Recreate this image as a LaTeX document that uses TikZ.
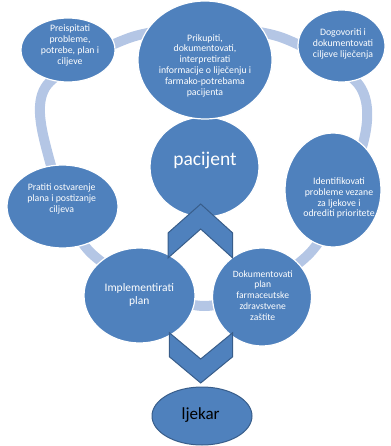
\documentclass[tikz,border=0pt]{standalone}
\usepackage{fontspec}
\setmainfont{Carlito}
\usetikzlibrary{shapes.geometric}
\definecolor{accblue}{HTML}{4F81BD}
\definecolor{ringblue}{HTML}{B4C6E5}
\definecolor{edgeblue}{HTML}{385D8A}

\begin{document}
\begin{tikzpicture}[x=1pt,y=-1pt,
 bub/.style={ellipse,fill=accblue,draw=white,line width=1.2pt,inner sep=0pt},
 txt/.style={text=white,align=center,inner sep=0pt,font=\fontsize{9.8}{10.8}\selectfont},
 chev/.style={fill=accblue,draw=edgeblue,line width=1pt,line join=miter}]
\useasboundingbox (0,0) rectangle (390,446);
% ring behind the steps
\draw[ringblue,line width=10pt] plot[smooth cycle] coordinates {(129,38) (206,28) (283,38) (359,85) (362,147) (309,254) (204,306) (90,252) (46,147) (47,85)};
\node[bub,minimum width=109,minimum height=100] (paci) at (204.5,167) {};
\node[bub,minimum width=134,minimum height=118] (prik) at (205,60) {};
\node[bub,minimum width=94,minimum height=64] (prei) at (68,50) {};
\node[bub,minimum width=87,minimum height=72] (dogo) at (341.5,46) {};
\node[bub,minimum width=96,minimum height=114] (iden) at (333,190) {};
\node[bub,minimum width=111,minimum height=83] (prat) at (62.5,206.5) {};
\node[bub,minimum width=111,minimum height=95] (impl) at (139.5,295.5) {};
\node[bub,minimum width=99,minimum height=98] (doku) at (262,297) {};
\node[bub,draw=edgeblue,line width=1pt,minimum width=100,minimum height=58] (ljek) at (202,416) {};
% texts
\node[txt] (preit) at (70,45.5) {Preispitati\\probleme,\\potrebe, plan i\\ciljeve};
\node[txt] (prikt) at (205,65.5) {Prikupiti,\\dokumentovati,\\interpretirati\\informacije o liječenju i\\farmako-potrebama\\pacijenta};
\node[txt] (dogot) at (343,44) {Dogovoriti i\\dokumentovati\\ciljeve liječenja};
\node[txt,font=\fontsize{19.5}{22}\selectfont] (pacit) at (205,160) {pacijent};
\node[txt] (ident) at (339,198) {Identifikovati\\probleme vezane\\za ljekove i\\odrediti prioritete};
\node[txt] (pratt) at (61.7,199) {Pratiti ostvarenje\\plana i postizanje\\ciljeva};
\node[txt,font=\fontsize{11.5}{12.4}\selectfont] (implt) at (139.3,295) {Implementirati\\plan};
\node[txt,font=\fontsize{9.6}{10.7}\selectfont] (dokut) at (262.7,295.3) {Dokumentovati\\plan\\farmaceutske\\zdravstvene\\zaštite};
\node[txt,text=black,font=\fontsize{17}{20}\selectfont] (ljekt) at (200.7,415) {ljekar};
% chevrons
\draw[chev] (168,233) -- (200.7,204) -- (232.7,233) -- (232.7,258) -- (200.7,229) -- (168,258) -- cycle;
\draw[chev] (169.3,332.7) -- (200.7,359) -- (232.7,332.7) -- (232.7,356.7) -- (200.7,383) -- (169.3,356.7) -- cycle;
\end{tikzpicture}
\end{document}
